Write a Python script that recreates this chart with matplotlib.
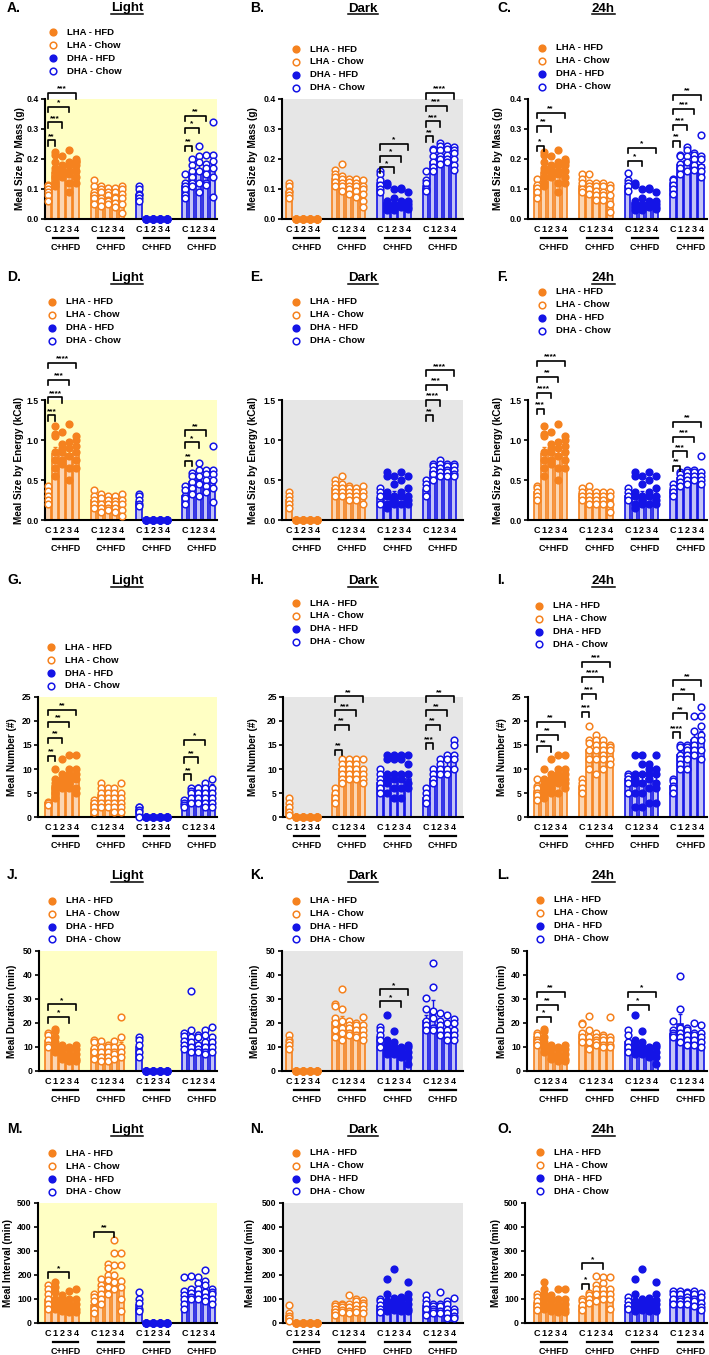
import numpy as np
import matplotlib
matplotlib.use("Agg")
import matplotlib.pyplot as plt
from matplotlib.lines import Line2D

plt.rcParams['font.family'] = ['Liberation Sans', 'DejaVu Sans']
plt.rcParams['font.weight'] = 'bold'

# ---------------- data ----------------
GROUP_LABELS = ["LHA - HFD", "LHA - Chow", "DHA - HFD", "DHA - Chow"]
BAR_LABELS = ["C", "1", "2", "3", "4"]
Z = [0, 0, 0, 0, 0]

# Panel A : Meal size by mass, Light
A_mean = [0.100, 0.155, 0.165, 0.155, 0.170, 0.085, 0.080, 0.075, 0.075, 0.075,
          0.080, 0, 0, 0, 0, 0.110, 0.155, 0.165, 0.160, 0.170]
A_pts = [[0.115, 0.11, 0.10, 0.09, 0.08, 0.06], [0.225, 0.215, 0.19, 0.17, 0.16, 0.14, 0.12, 0.11],
         [0.21, 0.18, 0.175, 0.17, 0.16, 0.15, 0.14], [0.23, 0.19, 0.18, 0.16, 0.15, 0.12, 0.09],
         [0.20, 0.195, 0.19, 0.18, 0.16, 0.14, 0.12],
         [0.13, 0.11, 0.09, 0.08, 0.07, 0.05], [0.11, 0.10, 0.09, 0.07, 0.06, 0.045],
         [0.105, 0.09, 0.08, 0.065, 0.06, 0.05], [0.105, 0.09, 0.075, 0.07, 0.055, 0.04],
         [0.11, 0.10, 0.085, 0.07, 0.05, 0.02],
         [0.11, 0.10, 0.085, 0.08, 0.07, 0.06], Z, Z, Z, Z,
         [0.15, 0.12, 0.11, 0.10, 0.08, 0.07], [0.20, 0.18, 0.16, 0.14, 0.12, 0.11],
         [0.245, 0.21, 0.19, 0.16, 0.12, 0.09], [0.215, 0.185, 0.17, 0.15, 0.12, 0.115],
         [0.325, 0.215, 0.195, 0.17, 0.14, 0.075]]
A_sig = [(0, 1, 0.262, '**'), (0, 2, 0.322, '***'), (0, 3, 0.375, '*'), (0, 4, 0.42, '***'),
         (3, 1, 0.245, '**'), (3, 2, 0.305, '*'), (3, 3, 0.345, '**')]

# Panel B : Meal size by mass, Dark
B_mean = [0.09, 0, 0, 0, 0, 0.135, 0.125, 0.115, 0.11, 0.105,
          0.12, 0.055, 0.05, 0.055, 0.05, 0.11, 0.19, 0.21, 0.205, 0.205]
B_pts = [[0.12, 0.11, 0.095, 0.09, 0.08, 0.07], Z, Z, Z, Z,
         [0.165, 0.15, 0.14, 0.125, 0.11], [0.185, 0.145, 0.135, 0.12, 0.11, 0.095],
         [0.135, 0.125, 0.11, 0.10, 0.085], [0.135, 0.12, 0.11, 0.095, 0.075],
         [0.13, 0.11, 0.10, 0.085, 0.06, 0.04],
         [0.16, 0.15, 0.13, 0.115, 0.10, 0.09], [0.12, 0.115, 0.06, 0.05, 0.04, 0.03],
         [0.10, 0.07, 0.05, 0.04, 0.03], [0.105, 0.10, 0.06, 0.05, 0.04],
         [0.09, 0.06, 0.05, 0.04, 0.035],
         [0.16, 0.13, 0.12, 0.10, 0.095], [0.235, 0.23, 0.21, 0.19, 0.175, 0.16],
         [0.255, 0.245, 0.23, 0.21, 0.20, 0.185], [0.245, 0.235, 0.215, 0.20, 0.19],
         [0.24, 0.23, 0.22, 0.20, 0.18, 0.165]]
B_sig = [(2, 2, 0.172, '*'), (2, 3, 0.21, '*'), (2, 4, 0.25, '*'),
         (3, 1, 0.276, '**'), (3, 2, 0.326, '***'), (3, 3, 0.378, '***'), (3, 4, 0.42, '****')]

# Panel C : Meal size by mass, 24h
C_mean = [0.11, 0.155, 0.165, 0.155, 0.17, 0.11, 0.105, 0.095, 0.095, 0.085,
          0.11, 0.055, 0.05, 0.055, 0.05, 0.12, 0.18, 0.195, 0.19, 0.18]
C_pts = [[0.135, 0.115, 0.105, 0.09, 0.07], [0.225, 0.215, 0.19, 0.17, 0.16, 0.14, 0.12, 0.11],
         [0.21, 0.18, 0.175, 0.17, 0.16, 0.15, 0.14], [0.23, 0.19, 0.18, 0.16, 0.15, 0.12, 0.09],
         [0.20, 0.195, 0.19, 0.18, 0.16, 0.14, 0.12],
         [0.15, 0.135, 0.12, 0.10, 0.09], [0.15, 0.12, 0.11, 0.10, 0.085],
         [0.12, 0.11, 0.095, 0.08, 0.065], [0.12, 0.11, 0.09, 0.08, 0.065],
         [0.115, 0.105, 0.08, 0.05, 0.025],
         [0.155, 0.13, 0.12, 0.11, 0.095], [0.12, 0.115, 0.06, 0.05, 0.04, 0.03],
         [0.10, 0.07, 0.05, 0.04, 0.03], [0.105, 0.10, 0.06, 0.05, 0.04],
         [0.09, 0.06, 0.05, 0.04, 0.035],
         [0.135, 0.13, 0.115, 0.10, 0.085], [0.215, 0.21, 0.185, 0.17, 0.15],
         [0.24, 0.23, 0.21, 0.19, 0.16], [0.22, 0.215, 0.20, 0.18, 0.165],
         [0.28, 0.21, 0.20, 0.175, 0.16, 0.14]]
C_sig = [(0, 1, 0.245, '*'), (0, 2, 0.31, '**'), (0, 4, 0.355, '**'),
         (2, 2, 0.195, '*'), (2, 4, 0.238, '*'),
         (3, 1, 0.26, '**'), (3, 2, 0.315, '***'), (3, 3, 0.368, '***'), (3, 4, 0.415, '**')]

# Panel D : Meal size by energy, Light
D_mean = [0.30, 0.82, 0.88, 0.82, 0.85, 0.25, 0.22, 0.21, 0.21, 0.20,
          0.22, 0, 0, 0, 0, 0.30, 0.47, 0.50, 0.48, 0.50]
D_pts = [[0.43, 0.36, 0.30, 0.25, 0.20], [1.17, 1.08, 1.05, 0.85, 0.75, 0.65, 0.55],
         [1.10, 0.95, 0.90, 0.85, 0.75, 0.70], [1.20, 0.97, 0.90, 0.80, 0.65, 0.50],
         [1.05, 1.00, 0.92, 0.85, 0.75, 0.65],
         [0.37, 0.30, 0.25, 0.20, 0.15], [0.32, 0.27, 0.20, 0.15, 0.10], [0.30, 0.25, 0.20, 0.15, 0.12],
         [0.30, 0.24, 0.20, 0.15, 0.10], [0.32, 0.25, 0.20, 0.12, 0.05],
         [0.33, 0.30, 0.25, 0.20, 0.17], Z, Z, Z, Z,
         [0.43, 0.37, 0.30, 0.27, 0.20], [0.59, 0.55, 0.48, 0.40, 0.32], [0.71, 0.63, 0.55, 0.45, 0.30],
         [0.63, 0.57, 0.50, 0.42, 0.35], [0.93, 0.63, 0.58, 0.50, 0.40, 0.22]]
D_sig = [(0, 1, 1.31, '***'), (0, 2, 1.535, '****'), (0, 3, 1.755, '***'), (0, 4, 1.965, '****'),
         (3, 1, 0.74, '**'), (3, 2, 0.97, '*'), (3, 3, 1.12, '**')]

# Panel E : Meal size by energy, Dark
E_mean = [0.25, 0, 0, 0, 0, 0.40, 0.37, 0.35, 0.33, 0.32,
          0.28, 0.30, 0.30, 0.30, 0.30, 0.38, 0.60, 0.63, 0.62, 0.62]
E_pts = [[0.35, 0.30, 0.25, 0.20, 0.15], Z, Z, Z, Z,
         [0.50, 0.45, 0.40, 0.35, 0.30], [0.55, 0.45, 0.40, 0.35, 0.30], [0.42, 0.40, 0.35, 0.30, 0.25],
         [0.40, 0.35, 0.30, 0.25], [0.42, 0.35, 0.30, 0.20],
         [0.40, 0.35, 0.30, 0.20], [0.60, 0.55, 0.35, 0.30, 0.20, 0.15], [0.55, 0.45, 0.30, 0.25, 0.20],
         [0.60, 0.50, 0.35, 0.30, 0.20], [0.55, 0.40, 0.30, 0.25, 0.20],
         [0.50, 0.45, 0.40, 0.30], [0.70, 0.68, 0.63, 0.58, 0.50], [0.75, 0.70, 0.65, 0.60, 0.55],
         [0.70, 0.67, 0.63, 0.60, 0.55], [0.70, 0.67, 0.62, 0.58, 0.55]]
E_sig = [(3, 1, 1.31, '**'), (3, 2, 1.5, '****'), (3, 3, 1.69, '***'), (3, 4, 1.87, '****')]

# Panel F : Meal size by energy, 24h
F_mean = [0.35, 0.82, 0.88, 0.82, 0.85, 0.33, 0.30, 0.28, 0.27, 0.25,
          0.30, 0.30, 0.30, 0.30, 0.30, 0.38, 0.52, 0.55, 0.55, 0.55]
F_pts = [[0.43, 0.40, 0.35, 0.30, 0.25], [1.17, 1.08, 1.05, 0.85, 0.75, 0.65, 0.55],
         [1.10, 0.95, 0.90, 0.85, 0.75, 0.70], [1.20, 0.97, 0.90, 0.80, 0.65, 0.50],
         [1.05, 1.00, 0.92, 0.85, 0.75, 0.65],
         [0.40, 0.35, 0.30, 0.25], [0.42, 0.35, 0.30, 0.25, 0.20], [0.35, 0.30, 0.25, 0.20],
         [0.35, 0.30, 0.25, 0.20], [0.35, 0.30, 0.20, 0.10],
         [0.40, 0.35, 0.30, 0.25], [0.60, 0.55, 0.35, 0.30, 0.20, 0.15], [0.55, 0.45, 0.30, 0.25, 0.20],
         [0.60, 0.50, 0.35, 0.30, 0.20], [0.55, 0.40, 0.30, 0.25, 0.20],
         [0.45, 0.40, 0.35, 0.30], [0.60, 0.58, 0.52, 0.48, 0.42], [0.63, 0.60, 0.55, 0.50, 0.45],
         [0.62, 0.60, 0.55, 0.50], [0.80, 0.60, 0.55, 0.50, 0.45]]
F_sig = [(0, 1, 1.39, '***'), (0, 2, 1.59, '****'), (0, 3, 1.79, '**'), (0, 4, 1.99, '****'),
         (3, 1, 0.68, '**'), (3, 2, 0.86, '***'), (3, 3, 1.04, '***'), (3, 4, 1.23, '**')]

# Panel G : Meal number, Light
G_mean = [3, 6.5, 8, 8.5, 8.5, 3, 4.5, 4, 4, 4, 1.5, 0, 0, 0, 0, 3, 5, 5.5, 6, 6]
G_pts = [[3.2, 3.0, 2.5], [10, 8, 7, 6, 5, 4], [12, 9, 8, 7, 6], [13, 10, 9, 8, 7, 6], [13, 10, 9, 8, 6, 5],
         [3.5, 3, 2, 1], [7, 6, 5, 4, 3, 2], [6, 5, 4, 3, 2], [6, 5, 4, 3, 2, 1], [7, 5, 4, 3, 2, 1],
         [2, 2, 1.5, 1, 0], Z, Z, Z, Z,
         [3.5, 3, 2.5, 2], [6, 5.5, 5, 4, 3], [6, 6, 5, 4, 3], [7, 6, 5, 4, 3, 2], [8, 6, 5, 4, 3, 2]]
G_sig = [(0, 1, 12.8, '**'), (0, 2, 16.5, '**'), (0, 3, 19.8, '**'), (0, 4, 22.3, '**'),
         (3, 1, 8.9, '**'), (3, 2, 12.4, '**'), (3, 3, 16.1, '*')]

# Panel H : Meal number, Dark
H_mean = [2, 0, 0, 0, 0, 4.5, 10, 9.5, 9.5, 9, 7, 8, 8, 8, 8, 4, 8, 10, 10.5, 12]
H_pts = [[4, 3, 2, 1, 0.5], Z, Z, Z, Z,
         [6, 5, 4, 3], [12, 11, 10, 9, 8, 7], [12, 11, 10, 9, 8], [12, 11, 10, 9, 8], [12, 10, 9, 8, 7],
         [10, 9, 8, 7, 6, 5], [13, 12, 9, 8, 7, 5], [13, 12, 9, 8, 6, 4], [13, 12, 9, 8, 6, 4], [13, 11, 9, 7, 6],
         [6, 5, 4, 3], [10, 9, 8, 7], [12, 11, 10, 9], [13, 12, 10, 9], [16, 15, 13, 12, 10]]
H_sig = [(1, 1, 14.0, '**'), (1, 2, 19.2, '**'), (1, 3, 22.2, '***'), (1, 4, 25.2, '**'),
         (3, 1, 15.4, '***'), (3, 2, 19.2, '**'), (3, 3, 22.2, '**'), (3, 4, 25.2, '**')]

# Panel I : Meal number, 24h
I_mean = [5.5, 6, 8, 8.5, 8.5, 6.5, 14, 14, 14, 13.5, 8, 7.5, 7.5, 8, 7.5, 6.5, 13, 14, 16, 16.5]
I_pts = [[8, 6.5, 6, 5, 4.5, 3.5], [10, 8, 7, 6, 5, 4], [12, 9, 8, 7, 6, 5], [13, 10, 9, 8, 7, 5],
         [13, 10, 9, 8, 7, 6],
         [8, 7, 6, 5], [19, 16, 15.5, 14, 12, 10], [17, 16, 15, 14, 12, 9], [16, 15, 14, 13, 12, 10],
         [15, 14.5, 14, 12, 11],
         [9, 8.5, 8, 7, 5], [13, 9, 8, 7, 5, 2], [13, 11, 9, 7, 5, 2], [11, 10, 9, 8, 6, 3], [13, 10, 9, 7, 6, 3],
         [8, 7.5, 6.5, 6, 5], [15, 14.5, 13, 12, 11, 10], [15, 14.5, 14, 13, 12, 10],
         [21, 18, 16, 15, 14, 13], [23, 21, 19, 17, 16, 14, 12]]
I_sig = [(0, 2, 14.7, '**'), (0, 3, 17.1, '**'), (0, 4, 19.8, '**'),
         (1, 1, 21.9, '***'), (1, 2, 25.7, '***'), (1, 3, 29.2, '****'), (1, 4, 32.3, '***'),
         (3, 1, 17.7, '****'), (3, 2, 21.6, '**'), (3, 3, 25.6, '**'), (3, 4, 28.5, '**')]

# Panel J : Meal duration, Light
J_mean = [12.5, 12, 7.5, 6.5, 6.5, 9, 8, 8, 8, 9, 10, 0, 0, 0, 0, 12.5, 13.5, 11.5, 11, 11.5]
J_pts = [[16, 15, 13, 11, 10], [17.5, 16.5, 14, 12, 10, 8], [11, 10.5, 9, 7, 5], [10, 9, 7, 5, 4],
         [11, 9, 7, 5, 4],
         [13, 12, 9.5, 8, 5], [12.5, 10, 8, 6, 4], [11, 10, 8, 6, 4], [12.5, 10, 8, 7, 5], [22.5, 14, 10, 8, 6],
         [14, 13, 11, 8, 6], Z, Z, Z, Z,
         [16, 14.5, 12.5, 11, 9], [33.5, 17, 14, 12, 10, 8], [15, 14, 11, 9, 8], [17, 15, 12, 10, 8, 7],
         [18.5, 14, 12, 10, 8]]
J_sig = [(0, 3, 22.5, '*'), (0, 4, 27.8, '*')]

# Panel K : Meal duration, Dark
K_mean = [11, 0, 0, 0, 0, 20.5, 20, 17.5, 17, 17, 14, 10, 9.5, 8, 8, 21, 25, 19, 17.5, 16.5]
K_pts = [[15, 13, 12, 11, 9], Z, Z, Z, Z,
         [28, 27, 22, 20, 17, 14], [34, 26, 21, 18, 16, 13], [21, 19, 18, 16, 15], [20, 19, 17, 15, 14],
         [22.5, 19, 17, 15, 13],
         [18.5, 17, 15, 13, 10], [23.5, 13, 11, 9, 8, 7], [16.5, 12, 10, 8, 7], [10, 9, 8, 7, 6], [11, 10, 8, 6, 3],
         [30.5, 26, 21, 19, 17], [45, 35, 25, 22, 18, 17], [24, 21, 19, 17, 15], [23.5, 20, 17, 15, 13],
         [21.5, 20, 17, 15, 13]]
K_sig = [(2, 3, 29.1, '*'), (2, 4, 34.1, '*')]

# Panel L : Meal duration, 24h
L_mean = [14, 12, 7.5, 6.5, 6.5, 15, 14, 13, 13, 13, 12, 10, 9.5, 8, 8, 15.5, 19.5, 14.5, 14.5, 14]
L_pts = [[16, 15, 13, 12, 11], [17.5, 16.5, 14, 12, 10, 8], [11, 10.5, 9, 7, 5], [10, 9, 7, 5, 4],
         [11, 9, 7, 5, 4],
         [20, 19.5, 16, 14, 12], [23, 17, 14, 12, 9], [16, 14, 13, 12, 11], [15, 14, 13, 11, 10],
         [22.5, 14, 13, 11, 10],
         [17, 15, 12, 10, 8], [23.5, 13, 11, 9, 8, 7], [16.5, 12, 10, 8, 7], [10, 9, 8, 7, 6], [11, 10, 8, 6, 3],
         [21, 17, 16, 15, 14], [39.5, 26, 18, 16, 14, 12], [18, 17, 15, 13, 11], [20, 16, 15, 13, 11],
         [19, 16, 14, 12, 10]]
L_sig = [(0, 2, 22.6, '*'), (0, 3, 27.7, '**'), (0, 4, 33, '**'), (2, 3, 27.7, '*'), (2, 4, 33, '*')]

# Panel M : Meal interval, Light
M_mean = [95, 100, 80, 75, 75, 75, 125, 165, 180, 150, 75, 0, 0, 0, 0, 110, 115, 125, 135, 115]
M_pts = [[160, 140, 120, 100, 80, 60], [170, 150, 130, 100, 80, 60], [115, 100, 90, 70, 50],
         [135, 100, 80, 60, 45], [140, 100, 80, 60, 45],
         [120, 110, 90, 60, 40], [185, 160, 140, 120, 100, 80], [245, 230, 200, 180, 150, 120],
         [345, 290, 240, 200, 170, 140], [290, 240, 175, 150, 100, 50],
         [130, 100, 85, 60, 50], Z, Z, Z, Z,
         [190, 135, 115, 100, 80, 60], [195, 140, 125, 110, 100], [190, 165, 140, 120, 100],
         [220, 175, 160, 130, 110, 90], [140, 130, 120, 100, 80]]
M_sig = [(0, 3, 211, '*'), (1, 3, 381, '**')]

# Panel N : Meal interval, Dark
N_mean = [30, 0, 0, 0, 0, 55, 60, 60, 65, 65, 70, 85, 80, 80, 85, 70, 55, 65, 55, 45]
N_pts = [[75, 40, 30, 20, 10], Z, Z, Z, Z,
         [80, 70, 60, 45, 35], [80, 75, 65, 55, 45], [115, 80, 65, 50, 40], [100, 90, 75, 60, 45],
         [95, 85, 75, 60, 40],
         [100, 90, 75, 60, 45], [185, 120, 90, 75, 60, 50], [225, 105, 90, 70, 55], [110, 100, 85, 65, 50],
         [170, 120, 100, 80, 60, 50],
         [115, 95, 80, 60, 35], [80, 70, 60, 50, 40], [130, 80, 70, 50, 40], [90, 80, 60, 40, 20],
         [105, 60, 45, 30, 20]]
N_sig = []

# Panel O : Meal interval, 24h
O_mean = [85, 100, 80, 75, 75, 70, 100, 130, 135, 120, 75, 85, 80, 80, 85, 95, 100, 105, 105, 90]
O_pts = [[120, 110, 90, 70, 55], [170, 140, 120, 100, 80, 60], [115, 100, 90, 70, 50],
         [140, 100, 80, 60, 45], [140, 100, 80, 60, 45],
         [100, 90, 75, 55], [125, 115, 100, 85], [195, 160, 140, 120, 90], [190, 165, 140, 120, 100],
         [190, 140, 120, 100, 60],
         [110, 90, 75, 60], [185, 120, 90, 70, 60, 50], [225, 100, 85, 70, 55], [105, 95, 80, 65, 50],
         [170, 120, 95, 80, 60, 50],
         [135, 120, 100, 80], [135, 120, 100, 90, 80], [130, 125, 110, 95, 80], [135, 120, 100, 90, 70],
         [125, 110, 85, 65, 55]]
O_sig = [(1, 1, 163, '*'), (1, 3, 249, '*')]

YLABELS = ["Meal Size by Mass (g)", "Meal Size by Energy (kCal)", "Meal Number (#)",
           "Meal Duration (min)", "Meal Interval (min)"]
YTICKS = [[0.0, 0.1, 0.2, 0.3, 0.4], [0.0, 0.5, 1.0, 1.5], [0, 5, 10, 15, 20, 25],
          [0, 10, 20, 30, 40, 50], [0, 100, 200, 300, 400, 500]]
YFMT = ["{:.1f}", "{:.1f}", "{:d}", "{:d}", "{:d}"]
TITLES = ["Light", "Dark", "24h"]

# ---------------- layout (pixels) ----------------
W, H = 709, 1355
ORANGE = '#F5821F'
BLUE = '#1414E6'
ORANGE_L = '#FCD6B3'
BLUE_L = '#C3C3F6'
BG = ['#FFFFC4', '#E6E6E6', 'white']
PPU = 7.0
COL_BAR0 = [48.0, 289.0, 536.5]
COL_RIGHT = [217, 463, 707]
COL_TITLE_X = [127, 363, 603]
COL_LETTER_X = [7, 250, 497]
ROW_AX = [(99, 219), (400, 520), (697, 817), (951, 1071), (1203, 1323)]
ROW_BASE = [11.5, 281, 584, 879, 1133]
MS = 4.8
MEW = 1.1

fig = plt.figure(figsize=(W / 100, H / 100), dpi=100)


def fx(px):
    return px / W


def fy(py):
    return 1 - py / H


panels = [
    ("A", 0, 0, 45, A_mean, A_pts, A_sig, 53, 32.3, 20),
    ("B", 0, 1, 282, B_mean, B_pts, B_sig, 296, 49, 253),
    ("C", 0, 2, 528, C_mean, C_pts, C_sig, 542, 48, 498),
    ("D", 1, 0, 45, D_mean, D_pts, D_sig, 52, 302, 19),
    ("E", 1, 1, 282, E_mean, E_pts, E_sig, 296, 302, 253),
    ("F", 1, 2, 528, F_mean, F_pts, F_sig, 542, 292, 498),
    ("G", 2, 0, 38, G_mean, G_pts, G_sig, 51, 647.3, 12),
    ("H", 2, 1, 283, H_mean, H_pts, H_sig, 296, 603, 253),
    ("I", 2, 2, 528, I_mean, I_pts, I_sig, 539, 605.7, 502),
    ("J", 3, 0, 39, J_mean, J_pts, J_sig, 52, 900.7, 12),
    ("K", 3, 1, 282, K_mean, K_pts, K_sig, 296, 900.7, 255),
    ("L", 3, 2, 527, L_mean, L_pts, L_sig, 540, 900, 502),
    ("M", 4, 0, 38, M_mean, M_pts, M_sig, 52, 1153.3, 8),
    ("N", 4, 1, 283, N_mean, N_pts, N_sig, 296, 1152.7, 250),
    ("O", 4, 2, 525, O_mean, O_pts, O_sig, 540, 1152.3, 496),
]

titles = []
for (letter, row, col, spine, mean, pts, sig, leg_x, leg_y, ylab_x) in panels:
    top, bot = ROW_AX[row]
    right = COL_RIGHT[col]
    bar0 = COL_BAR0[col]
    ax = fig.add_axes([fx(spine), fy(bot), fx(right - spine), (bot - top) / H])
    ax.set_xlim((spine - bar0) / PPU, (right - bar0) / PPU)
    yt = YTICKS[row]
    ymax = yt[-1]
    ax.set_ylim(0, ymax)
    ax.set_facecolor(BG[col])
    for s in ['top', 'right']:
        ax.spines[s].set_visible(False)
    for s in ['left', 'bottom']:
        ax.spines[s].set_linewidth(1.5)
    ax.set_yticks(yt)
    ax.set_yticklabels([YFMT[row].format(v) for v in yt], fontsize=6.2, fontweight='bold')
    ax.tick_params(axis='y', length=3, width=1.2, pad=1.5)

    xs = [g * 6.5 + i for g in range(4) for i in range(5)]
    ax.set_xticks(xs)
    ax.set_xticklabels(BAR_LABELS * 4, fontsize=6.5, fontweight='bold')
    ax.tick_params(axis='x', length=0, pad=4.5)

    for k, x in enumerate(xs):
        g, i = divmod(k, 5)
        c = ORANGE if g < 2 else BLUE
        cl = ORANGE_L if g < 2 else BLUE_L
        m = mean[k]
        p = np.array(pts[k], dtype=float)
        if m > 0:
            ax.bar(x, m, width=0.8, color=cl, edgecolor=c, linewidth=1.2, zorder=2)
            sem = p.std(ddof=1) / np.sqrt(len(p))
            ax.errorbar(x, m, yerr=[[0], [sem]], color=c, elinewidth=1.0, capsize=1.3,
                        capthick=1.0, zorder=3)
        filled = (g in (0, 2)) and i > 0
        ax.plot(np.full(len(p), x), p, 'o', ms=MS, mfc=c if filled else 'white', mec=c,
                mew=MEW, zorder=4, clip_on=False)

    trans = ax.get_xaxis_transform()
    hpx = bot - top
    for g in range(4):
        ax.plot([g * 6.5 + 0.7, g * 6.5 + 4.3], [-19 / hpx, -19 / hpx], color='black', lw=1.6,
                transform=trans, clip_on=False)
        ax.text(g * 6.5 + 2.5, -28.5 / hpx, "C+HFD", transform=trans, ha='center', va='center',
                fontsize=6.5, fontweight='bold')

    d = 5.5 / hpx * ymax
    for (g, b, h, lab) in sig:
        xa, xb = g * 6.5, g * 6.5 + b
        ax.plot([xa, xa, xb, xb], [h - d, h, h, h - d], color='black', lw=1.2, clip_on=False,
                zorder=5)
        ax.text((xa + xb) / 2, h + 0.3 / hpx * ymax, lab, ha='center', va='bottom', fontsize=6,
                fontweight='bold', clip_on=False)

    # y label
    fig.text(fx(ylab_x), fy((top + bot) / 2), YLABELS[row], rotation=90, ha='center',
             va='center', fontsize=7.2, fontweight='bold')

    # legend
    styles = [(ORANGE, True), (ORANGE, False), (BLUE, True), (BLUE, False)]
    for j, (lab, (c, fl)) in enumerate(zip(GROUP_LABELS, styles)):
        yy = leg_y + j * 12.9
        fig.add_artist(Line2D([fx(leg_x)], [fy(yy)], transform=fig.transFigure, marker='o',
                              ms=MS, mfc=c if fl else 'white', mec=c, mew=MEW, ls='none'))
        fig.text(fx(leg_x + 14), fy(yy), lab, ha='left', va='center', fontsize=6.8,
                 fontweight='bold')

    # title and panel letter
    base = ROW_BASE[row]
    t = fig.text(fx(COL_TITLE_X[col]), fy(base), TITLES[col], ha='center', va='baseline',
                 fontsize=9.5, fontweight='bold')
    titles.append((t, base))
    fig.text(fx(COL_LETTER_X[col]), fy(base), letter + ".", ha='left', va='baseline',
             fontsize=10, fontweight='bold')

fig.canvas.draw()
r = fig.canvas.get_renderer()
for t, base in titles:
    bb = t.get_window_extent(r)
    fig.add_artist(Line2D([bb.x0 / W, bb.x1 / W], [fy(base + 2.5)] * 2, transform=fig.transFigure,
                          color='black', lw=1.1))

fig.savefig("out.png", dpi=100)
